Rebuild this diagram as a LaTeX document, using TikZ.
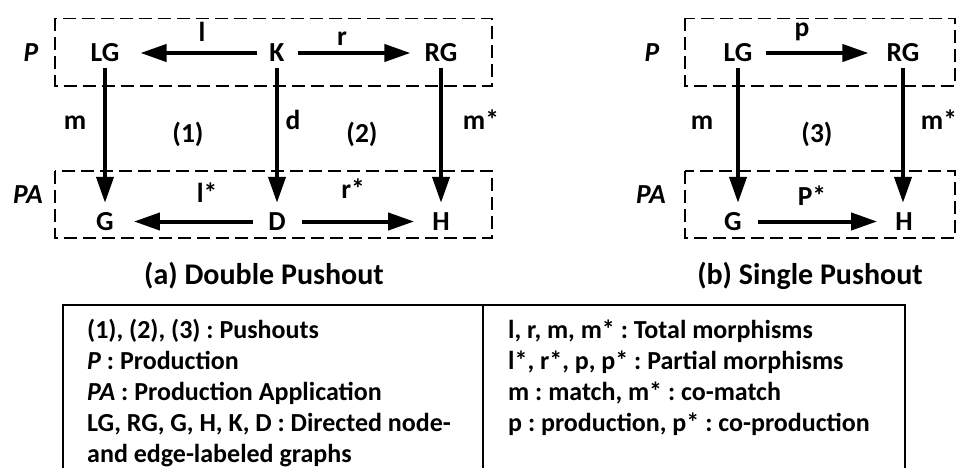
\documentclass[tikz,border=0pt]{standalone}
\usepackage{fontspec}
\setmainfont{Carlito}
\usetikzlibrary{arrows.meta}
\frenchspacing
\begin{document}
\begin{tikzpicture}[x=1pt,y=-1pt,
  gnode/.style={font=\fontsize{27.5}{31}\selectfont\bfseries, inner sep=0pt, text height=17pt, text depth=0pt, anchor=base},
  lbl/.style={font=\fontsize{27.5}{31}\selectfont\bfseries, inner sep=0pt, anchor=base},
  side/.style={font=\fontsize{27.5}{31}\selectfont\bfseries\itshape, inner sep=0pt, anchor=base},
  captext/.style={font=\fontsize{30}{34}\selectfont\bfseries, inner sep=0pt, anchor=base},
  leg/.style={font=\fontsize{26}{31}\selectfont\bfseries, inner sep=0pt, anchor=base west},
  arr/.style={line width=4pt, -{Triangle[length=26pt,width=17pt]}},
  dbox/.style={line width=1.3pt, dash pattern=on 13pt off 6pt},
]
\useasboundingbox (0,0) rectangle (959,468);

% dashed boxes
\draw[dbox] (55,18.5) rectangle (492,86);
\draw[dbox] (55,171) rectangle (492,238);
\draw[dbox] (685,18.5) rectangle (955,86);
\draw[dbox] (685,171) rectangle (955,238);

% (a) nodes
\node[gnode] (LG) at (105,61.5) {LG};
\node[gnode] (K) at (277,61.5) {K};
\node[gnode] (RG) at (441,61.5) {RG};
\node[gnode] (G) at (105,230) {G};
\node[gnode] (D) at (277,230) {D};
\node[gnode] (H) at (441,230) {H};

\draw[arr, shorten <=12pt, shorten >=21pt] (K.west) -- (LG.east);
\draw[arr, shorten <=13pt, shorten >=14pt] (K.east) -- (RG.west);
\draw[arr, shorten <=15pt, shorten >=20pt] (D.west) -- (G.east);
\draw[arr, shorten <=16pt, shorten >=18pt] (D.east) -- (H.west);
\draw[arr, shorten <=6.5pt, shorten >=10pt] (LG.south) -- (G.north);
\draw[arr, shorten <=6.5pt, shorten >=10pt] (K.south) -- (D.north);
\draw[arr, shorten <=6.5pt, shorten >=10pt] (RG.south) -- (H.north);

\node[lbl] (ll) at (202,42) {l};
\node[lbl] (lr) at (342,46) {r};
\node[lbl] (lm) at (75,130) {m};
\node[lbl] (l1) at (188,143) {(1)};
\node[lbl] (ld) at (293,130) {d};
\node[lbl] (l2) at (362,143) {(2)};
\node[lbl] (lms) at (481,130) {m*};
\node[lbl] (lls) at (207,202) {l*};
\node[lbl] (lrs) at (353,198) {r*};

\node[side] (Pa) at (31,62) {P};
\node[side] (PAa) at (28,204) {PA};

% (b) nodes
\node[gnode] (LGb) at (738,61.5) {LG};
\node[gnode] (RGb) at (903,61.5) {RG};
\node[gnode] (Gb) at (733,230) {G};
\node[gnode] (Hb) at (904,230) {H};

\draw[arr, shorten <=13pt, shorten >=18pt] (LGb.east) -- (RGb.west);
\draw[arr, shorten <=16pt, shorten >=18pt] (Gb.east) -- (Hb.west);
\draw[arr, shorten <=6.5pt, shorten >=10pt] (LGb.south) -- (LGb.south |- Gb.north);
\draw[arr, shorten <=6.5pt, shorten >=10pt] (RGb.south) -- (RGb.south |- Hb.north);

\node[lbl] (lp) at (802,37) {p};
\node[lbl] (lmb) at (702,130) {m};
\node[lbl] (l3) at (817,143) {(3)};
\node[lbl] (lmsb) at (939,130) {m*};
\node[lbl] (lps) at (812,205) {P*};

\node[side] (Pb) at (652,62) {P};
\node[side] (PAb) at (651,204) {PA};

% captions
\node[captext] (capa) at (264,284) {(a) Double Pushout};
\node[captext] (capb) at (810,284) {(b) Single Pushout};

% legend box
\draw[line width=1.3pt] (63,470) -- (63,305) -- (905,305) -- (905,470);
\draw[line width=1.3pt] (483,305) -- (483,470);

\node[leg] (a1) at (87,338) {(1), (2), (3) : Pushouts};
\node[leg] (a2) at (87,369) {\textit{P} : Production};
\node[leg] (a3) at (87,400) {\textit{PA} : Production Application};
\node[leg] (a4) at (87,431) {LG, RG, G, H, K, D : Directed node-};
\node[leg] (a5) at (87,462) {and edge-labeled graphs};

\node[leg] (b1) at (508,338) {l, r, m, m* : Total morphisms};
\node[leg] (b2) at (508,369) {l*, r*, p, p* : Partial morphisms};
\node[leg] (b3) at (508,400) {m : match, m* : co-match};
\node[leg] (b4) at (508,431) {p : production, p* : co-production};
\end{tikzpicture}
\end{document}
